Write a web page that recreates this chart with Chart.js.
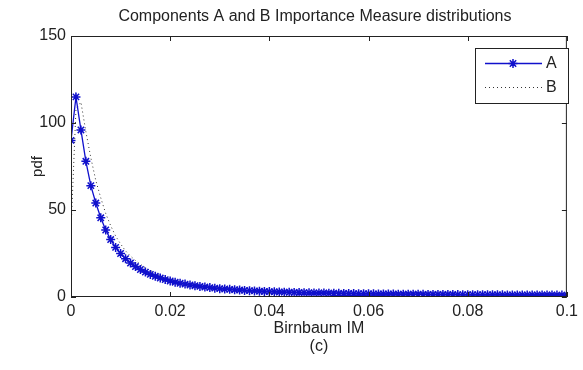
<!DOCTYPE html>
<html>
<head>
<meta charset="utf-8">
<script src="https://cdn.jsdelivr.net/npm/chart.js@4/dist/chart.umd.min.js"></script>
<style>
  html, body { margin: 0; padding: 0; background: #fff; }
  #wrap { width: 583px; height: 370px; position: relative; }
</style>
</head>
<body>
<div id="wrap"><canvas id="c"></canvas></div>
<script>
// Birnbaum importance measure sampling grid (0 .. 0.1, step 0.001)
const imGrid = Array.from({ length: 101 }, (_, i) => i / 1000);

// pdf of component A
const pdfA = [
  90, 115, 96, 78, 64, 54, 45.5, 38.5, 33, 28.5,
  25, 22, 19.5, 17.5, 15.8, 14.3, 13, 11.9, 10.9, 10,
  9.2, 8.5, 7.9, 7.4, 6.9, 6.5, 6.1, 5.7, 5.4, 5.1,
  4.8, 4.6, 4.4, 4.2, 4.0, 3.8, 3.65, 3.5, 3.35, 3.2,
  3.1, 3.0, 2.9, 2.8, 2.7, 2.6, 2.55, 2.5, 2.4, 2.35,
  2.3, 2.25, 2.2, 2.15, 2.1, 2.05, 2.0, 1.95, 1.9, 1.87,
  1.84, 1.8, 1.77, 1.74, 1.71, 1.68, 1.65, 1.62, 1.6, 1.57,
  1.55, 1.52, 1.5, 1.48, 1.46, 1.44, 1.42, 1.4, 1.38, 1.36,
  1.34, 1.33, 1.31, 1.29, 1.28, 1.26, 1.25, 1.23, 1.22, 1.2,
  1.19, 1.18, 1.16, 1.15, 1.14, 1.13, 1.12, 1.1, 1.09, 1.08,
  1.07
];

// pdf of component B
const pdfB = [
  38, 108, 112, 95, 80, 67, 57, 48, 41, 35,
  30.5, 26.5, 23.5, 21, 18.8, 16.8, 15.2, 13.8, 12.5, 11.4,
  10.4, 9.6, 9.0, 8.3, 7.8, 7.3, 6.8, 6.4, 6.0, 5.7,
  5.4, 5.1, 4.85, 4.6, 4.4, 4.2, 4.0, 3.8, 3.65, 3.5,
  3.35, 3.2, 3.05, 2.95, 2.85, 2.75, 2.65, 2.6, 2.5, 2.45,
  2.4, 2.33, 2.28, 2.22, 2.17, 2.12, 2.07, 2.02, 1.97, 1.93,
  1.9, 1.86, 1.82, 1.79, 1.76, 1.73, 1.7, 1.67, 1.64, 1.62,
  1.59, 1.56, 1.54, 1.52, 1.5, 1.48, 1.46, 1.44, 1.42, 1.4,
  1.38, 1.36, 1.34, 1.32, 1.31, 1.29, 1.27, 1.26, 1.24, 1.23,
  1.22, 1.2, 1.19, 1.18, 1.16, 1.15, 1.14, 1.13, 1.12, 1.11,
  1.1
];

const seriesNames = ['A', 'B'];
const xTickValues = [0, 0.02, 0.04, 0.06, 0.08, 0.1];
const xTickLabels = ['0', '0.02', '0.04', '0.06', '0.08', '0.1'];
const yTickValues = [0, 50, 100, 150];
const yTickLabels = ['0', '50', '100', '150'];

const titleText = 'Components A and B Importance Measure distributions';
const FONT = '"Liberation Sans", Arial, sans-serif';
const INK = '#222';
const BLUE = '#1010cc';

// Axes box, inward tick marks, title and in-plot legend
const matlabFrame = {
  id: 'matlabFrame',
  afterDatasetsDraw(chart) {
    const { ctx, chartArea: a, scales } = chart;
    ctx.save();
    ctx.strokeStyle = INK;
    ctx.lineWidth = 1;
    ctx.strokeRect(a.left + 0.5, a.top + 0.5, a.right - a.left - 1, a.bottom - a.top - 1);
    const tl = 5;
    ctx.beginPath();
    xTickValues.forEach(v => {
      const px = Math.round(scales.x.getPixelForValue(v)) + 0.5;
      ctx.moveTo(px, a.bottom); ctx.lineTo(px, a.bottom - tl);
      ctx.moveTo(px, a.top); ctx.lineTo(px, a.top + tl);
    });
    yTickValues.forEach(v => {
      const py = Math.round(scales.y.getPixelForValue(v)) + 0.5;
      ctx.moveTo(a.left, py); ctx.lineTo(a.left + tl, py);
      ctx.moveTo(a.right, py); ctx.lineTo(a.right - tl, py);
    });
    ctx.stroke();

    // title
    ctx.fillStyle = INK;
    ctx.font = '16px ' + FONT;
    ctx.textAlign = 'center';
    ctx.textBaseline = 'middle';
    ctx.fillText(titleText, (a.left + a.right) / 2 - 4, 17);

    // legend
    const lx = 475, ly = 48, lw = 93, lh = 55;
    ctx.fillStyle = '#fff';
    ctx.fillRect(lx, ly, lw, lh);
    ctx.strokeStyle = INK;
    ctx.strokeRect(lx + 0.5, ly + 0.5, lw, lh);
    const rows = [63, 87];
    chart.data.datasets.forEach((ds, i) => {
      const y = rows[i] + 0.5;
      ctx.beginPath();
      ctx.strokeStyle = ds.borderColor;
      ctx.lineWidth = ds.borderWidth;
      ctx.setLineDash(ds.borderDash || []);
      ctx.moveTo(485, y); ctx.lineTo(542, y);
      ctx.stroke();
      ctx.setLineDash([]);
      if (ds.pointRadius > 0) {
        ctx.strokeStyle = ds.pointBorderColor;
        ctx.lineWidth = ds.pointBorderWidth;
        Chart.helpers.drawPoint(ctx, {
          pointStyle: ds.pointStyle, radius: ds.pointRadius, borderWidth: ds.pointBorderWidth
        }, 513, y);
      }
      ctx.fillStyle = INK;
      ctx.font = '16px ' + FONT;
      ctx.textAlign = 'left';
      ctx.fillText(ds.label, 546, rows[i] + 1);
    });
    ctx.restore();
  }
};

new Chart(document.getElementById('c'), {
  type: 'line',
  data: {
    datasets: [
      {
        label: seriesNames[0],
        data: imGrid.map((x, i) => ({ x, y: pdfA[i] })),
        borderColor: BLUE,
        borderWidth: 1.3,
        pointStyle: 'star',
        pointRadius: 4.5,
        pointBorderColor: BLUE,
        pointBorderWidth: 1.5,
        pointBackgroundColor: BLUE,
        tension: 0,
        order: 1
      },
      {
        label: seriesNames[1],
        data: imGrid.map((x, i) => ({ x, y: pdfB[i] })),
        borderColor: '#333',
        borderWidth: 1,
        borderDash: [1, 3],
        pointRadius: 0,
        tension: 0,
        order: 2
      }
    ]
  },
  options: {
    responsive: true,
    maintainAspectRatio: false,
    animation: false,
    layout: { padding: { top: 36, right: 6, left: 0, bottom: 0 } },
    plugins: {
      legend: { display: false },
      tooltip: { enabled: false },
      title: { display: false }
    },
    scales: {
      x: {
        type: 'linear',
        min: 0,
        max: 0.1,
        afterBuildTicks(s) { s.ticks = xTickValues.map(v => ({ value: v })); },
        afterFit(s) { s.height = 73; },
        grid: { display: false, drawTicks: false },
        border: { display: false },
        ticks: {
          padding: 5,
          color: INK,
          font: { family: FONT, size: 16 },
          maxRotation: 0,
          callback: (v) => xTickLabels[xTickValues.findIndex(t => Math.abs(t - v) < 1e-9)]
        },
        title: {
          display: true,
          text: ['Birnbaum IM', '(c)'],
          color: INK,
          font: { family: FONT, size: 16, lineHeight: 1.15 },
          padding: { top: 0, bottom: 14 }
        }
      },
      y: {
        type: 'linear',
        min: 0,
        max: 150,
        afterBuildTicks(s) { s.ticks = yTickValues.map(v => ({ value: v })); },
        afterFit(s) { s.width = 71; },
        grid: { display: false, drawTicks: false },
        border: { display: false },
        ticks: {
          padding: 5,
          color: INK,
          font: { family: FONT, size: 16 },
          callback: (v) => yTickLabels[yTickValues.indexOf(v)]
        },
        title: {
          display: true,
          text: 'pdf',
          color: INK,
          font: { family: FONT, size: 15 },
          padding: { top: 29, bottom: 0 }
        }
      }
    }
  },
  plugins: [matlabFrame]
});
</script>
</body>
</html>
